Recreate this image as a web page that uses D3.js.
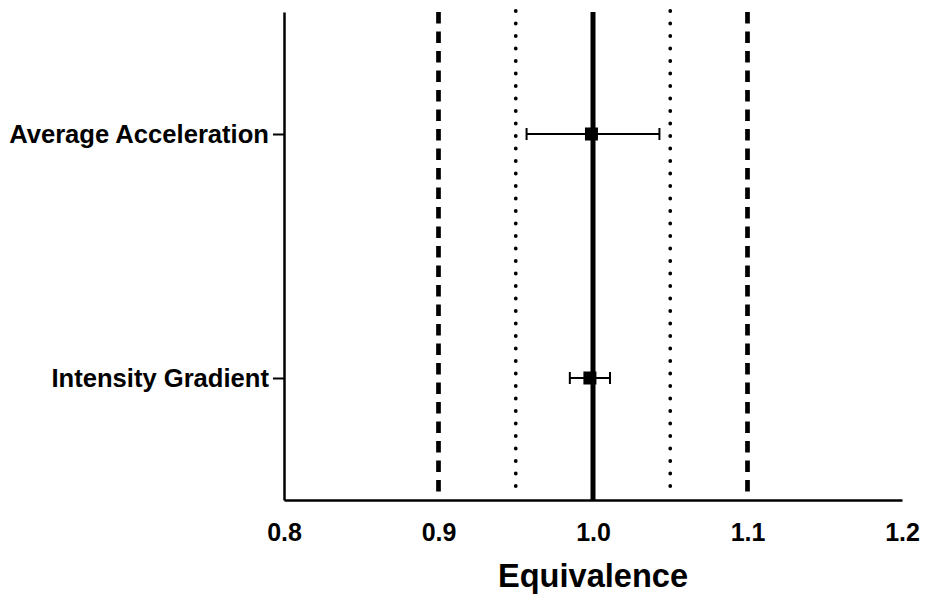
<!DOCTYPE html>
<html>
<head>
<meta charset="utf-8">
<script src="https://cdn.jsdelivr.net/npm/d3@7.9.0/dist/d3.min.js"></script>
<style>
  html, body { margin: 0; padding: 0; background: #fff; }
  svg { display: block; font-family: "Liberation Sans", Arial, sans-serif; }
</style>
</head>
<body>
<div id="chart"></div>
<script>
"use strict";

const categories = ["Average Acceleration", "Intensity Gradient"];
const estimates = [0.999, 0.998];
const lower = [0.957, 0.985];
const upper = [1.043, 1.011];

const dashedLines = [0.9, 1.1];
const dottedLines = [0.95, 1.05];
const solidLines = [1.0];

const xTicks = [0.8, 0.9, 1.0, 1.1, 1.2];
const xTitle = "Equivalence";

const width = 925;
const height = 596;
const margin = { top: 12, right: 23, bottom: 96, left: 284 };

const svg = d3.select("#chart").append("svg")
    .attr("width", width)
    .attr("height", height);

const x = d3.scaleLinear()
    .domain([0.8, 1.2])
    .range([margin.left, width - margin.right]);

const y = d3.scalePoint()
    .domain(categories)
    .range([margin.top, height - margin.bottom])
    .padding(0.5);

const y0 = margin.top;
const y1 = height - margin.bottom;

// reference lines
svg.append("g")
    .selectAll("line")
    .data(dashedLines)
    .join("line")
    .attr("x1", (d) => x(d)).attr("x2", (d) => x(d))
    .attr("y1", y0).attr("y2", y1 - 3)
    .attr("stroke", "#000")
    .attr("stroke-width", 4.7)
    .attr("stroke-dasharray", "11.5,8");

svg.append("g")
    .selectAll("line")
    .data(dottedLines)
    .join("line")
    .attr("x1", (d) => x(d)).attr("x2", (d) => x(d))
    .attr("y1", y0 - 1).attr("y2", y1 - 2)
    .attr("stroke", "#000")
    .attr("stroke-width", 3.8)
    .attr("stroke-linecap", "round")
    .attr("stroke-dasharray", "0,12.5");

svg.append("g")
    .selectAll("line")
    .data(solidLines)
    .join("line")
    .attr("x1", (d) => x(d)).attr("x2", (d) => x(d))
    .attr("y1", y0).attr("y2", y1)
    .attr("stroke", "#000")
    .attr("stroke-width", 5);

// axes
const yAxis = svg.append("g")
    .attr("transform", `translate(${margin.left},0)`)
    .call(d3.axisLeft(y).tickSize(11).tickPadding(4).tickSizeOuter(0));
yAxis.select(".domain").attr("stroke-width", 2.5);
yAxis.selectAll(".tick line").attr("stroke-width", 2);
yAxis.selectAll(".tick text")
    .attr("font-size", 25.6)
    .attr("font-weight", "bold")
    .attr("fill", "#000")
    .attr("font-family", "'Liberation Sans', Arial, sans-serif");

const xAxis = svg.append("g")
    .attr("transform", `translate(0,${y1})`)
    .call(d3.axisBottom(x).tickValues(xTicks).tickFormat(d3.format(".1f"))
        .tickSize(0).tickPadding(23).tickSizeOuter(0));
xAxis.select(".domain").attr("stroke-width", 2.5);
xAxis.selectAll(".tick text")
    .attr("font-size", 25)
    .attr("font-weight", "bold")
    .attr("fill", "#000")
    .attr("font-family", "'Liberation Sans', Arial, sans-serif");

svg.append("text")
    .attr("x", x(1.0))
    .attr("y", 587)
    .attr("text-anchor", "middle")
    .attr("font-size", 32.6)
    .attr("font-weight", "bold")
    .text(xTitle);

// error bars
const rows = categories.map((c, i) => ({ c, est: estimates[i], lo: lower[i], hi: upper[i] }));
const capH = 12;
const sq = 13;

const g = svg.append("g");
g.selectAll(".ci")
    .data(rows)
    .join("line")
    .attr("x1", (d) => x(d.lo)).attr("x2", (d) => x(d.hi))
    .attr("y1", (d) => y(d.c)).attr("y2", (d) => y(d.c))
    .attr("stroke", "#000").attr("stroke-width", 2);

g.selectAll(".capL")
    .data(rows)
    .join("line")
    .attr("x1", (d) => x(d.lo)).attr("x2", (d) => x(d.lo))
    .attr("y1", (d) => y(d.c) - capH / 2).attr("y2", (d) => y(d.c) + capH / 2)
    .attr("stroke", "#000").attr("stroke-width", 2);

g.selectAll(".capR")
    .data(rows)
    .join("line")
    .attr("x1", (d) => x(d.hi)).attr("x2", (d) => x(d.hi))
    .attr("y1", (d) => y(d.c) - capH / 2).attr("y2", (d) => y(d.c) + capH / 2)
    .attr("stroke", "#000").attr("stroke-width", 2);

g.selectAll("rect")
    .data(rows)
    .join("rect")
    .attr("x", (d) => x(d.est) - sq / 2)
    .attr("y", (d) => y(d.c) - sq / 2)
    .attr("width", sq).attr("height", sq)
    .attr("fill", "#000");
</script>
</body>
</html>
